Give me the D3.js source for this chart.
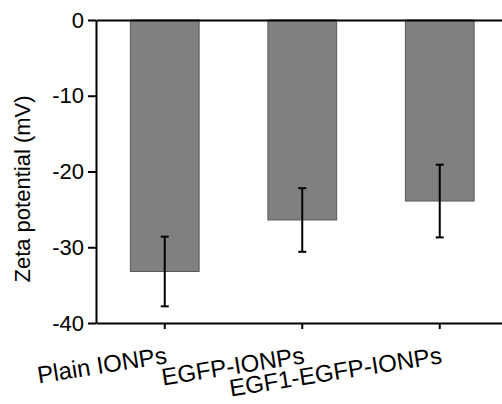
<!doctype html>
<html>
<head>
<meta charset="utf-8">
<script src="https://d3js.org/d3.v7.min.js"></script>
<style>
  body { margin: 0; background: #fff; }
  text { font-family: Arial, "Liberation Sans", sans-serif; fill: #000; }
</style>
</head>
<body>
<svg id="chart" width="502" height="404"></svg>
<script>
// data
var groups = ["Plain IONPs", "EGFP-IONPs", "EGF1-EGFP-IONPs"];
var zeta = [-33.2, -26.4, -23.9];
var zetaErr = [4.6, 4.2, 4.8];
var yTicks = [0, -10, -20, -30, -40];

var svg = d3.select("#chart");

var xScale = d3.scaleBand().domain(groups).range([96, 508.5])
    .paddingInner(0.5).paddingOuter(0.25);
var yScale = d3.scaleLinear().domain([-40, 0]).range([323, 20]);

// bars hang down from zero
svg.selectAll("rect.bar")
    .data(groups)
    .enter()
    .append("rect")
    .attr("class", "bar")
    .attr("x", d => xScale(d))
    .attr("width", xScale.bandwidth())
    .attr("y", yScale(0))
    .attr("height", (d, i) => yScale(zeta[i]) - yScale(0))
    .attr("fill", "#808080")
    .attr("stroke", "#5a5a5a")
    .attr("stroke-width", 1);

// error bars
var err = svg.selectAll("g.err")
    .data(groups)
    .enter()
    .append("g")
    .attr("class", "err")
    .attr("stroke", "#000")
    .attr("stroke-width", 2);
var cx = d => xScale(d) + xScale.bandwidth() / 2;
err.append("line")
    .attr("x1", cx).attr("x2", cx)
    .attr("y1", (d, i) => yScale(zeta[i] + zetaErr[i]))
    .attr("y2", (d, i) => yScale(zeta[i] - zetaErr[i]));
err.append("line")
    .attr("x1", d => cx(d) - 4).attr("x2", d => cx(d) + 4)
    .attr("y1", (d, i) => yScale(zeta[i] + zetaErr[i]))
    .attr("y2", (d, i) => yScale(zeta[i] + zetaErr[i]));
err.append("line")
    .attr("x1", d => cx(d) - 4).attr("x2", d => cx(d) + 4)
    .attr("y1", (d, i) => yScale(zeta[i] - zetaErr[i]))
    .attr("y2", (d, i) => yScale(zeta[i] - zetaErr[i]));

// zero line on top
var topAxis = d3.axisTop(xScale).tickValues([]).tickSizeOuter(0);
svg.append("g").attr("id", "topAxisG")
    .attr("transform", "translate(0," + yScale(0) + ")")
    .call(topAxis);

// bottom axis with slanted labels
var xAxis = d3.axisBottom(xScale).tickSize(6).tickSizeOuter(0).tickPadding(4);
var xg = svg.append("g").attr("id", "xAxisG")
    .attr("transform", "translate(0," + yScale(-40) + ")")
    .call(xAxis);
xg.selectAll("text")
    .style("font-size", "24px")
    .attr("text-anchor", "end")
    .attr("dy", 0)
    .attr("y", 0)
    .attr("transform", "translate(3,40) rotate(-9)");

var yAxis = d3.axisLeft(yScale).tickValues(yTicks).tickSize(8).tickSizeOuter(0).tickPadding(4)
    .tickFormat(d => String(d));
var yg = svg.append("g").attr("id", "yAxisG")
    .attr("transform", "translate(96,0)")
    .call(yAxis);
yg.selectAll("text").style("font-size", "22px");

svg.selectAll(".domain, .tick line")
    .attr("stroke", "#000")
    .attr("stroke-width", 2);

svg.append("text")
    .attr("transform", "translate(30,189) rotate(-90)")
    .attr("text-anchor", "middle")
    .style("font-size", "22px")
    .text("Zeta potential (mV)");
</script>
</body>
</html>
